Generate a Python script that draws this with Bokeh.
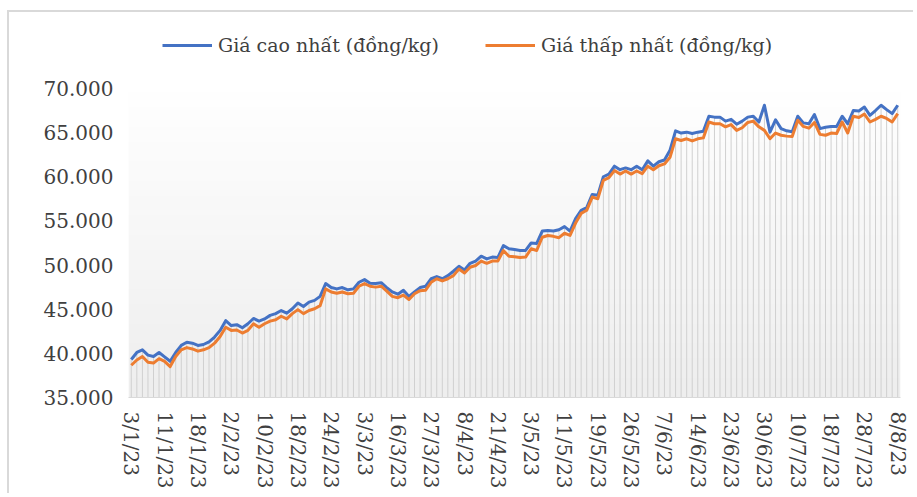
import numpy as np
from bokeh.plotting import figure
from bokeh.models import Range1d, Legend, LegendItem, FixedTicker, ColumnDataSource
from bokeh.embed import file_html
from bokeh.resources import INLINE

# ---- data ----
date_labels = ["3/1/23", "11/1/23", "18/1/23", "2/2/23", "10/2/23", "18/2/23", "24/2/23",
               "3/3/23", "16/3/23", "27/3/23", "8/4/23", "21/4/23", "3/5/23", "11/5/23",
               "19/5/23", "26/5/23", "7/6/23", "14/6/23", "23/6/23", "30/6/23", "10/7/23",
               "18/7/23", "28/7/23", "8/8/23"]
label_every = 6

high = [39300, 40100, 40400, 39800, 39650, 40100, 39600, 39100, 40100, 40900,
        41250, 41150, 40900, 41000, 41300, 41850, 42600, 43700, 43150, 43250,
        42900, 43350, 43950, 43650, 43900, 44300, 44500, 44850, 44550, 45050,
        45700, 45300, 45800, 46000, 46450, 47900, 47450, 47300, 47450, 47200,
        47300, 48050, 48350, 47950, 47900, 48000, 47450, 46950, 46700, 47150,
        46450, 46950, 47450, 47600, 48450, 48700, 48450, 48800, 49300, 49850,
        49450, 50200, 50450, 51000, 50700, 50900, 50850, 52200, 51850, 51750,
        51650, 51650, 52500, 52450, 53850, 53900, 53850, 54000, 54350, 53850,
        55250, 56200, 56500, 58000, 57900, 60000, 60300, 61200, 60800, 61000,
        60800, 61200, 60800, 61800, 61200, 61700, 61900, 63000, 65200, 64950,
        65050, 64900, 65050, 65150, 66850, 66750, 66750, 66300, 66500, 65950,
        66300, 66750, 66850, 66200, 68100, 65050, 66450, 65450, 65200, 65100,
        66850, 66100, 66000, 67050, 65450, 65600, 65700, 65700, 66850, 66000,
        67500, 67450, 67900, 66950, 67500, 68100, 67600, 67150, 68100]

low = [38650, 39250, 39650, 39000, 38900, 39400, 39100, 38500, 39650, 40400,
       40650, 40500, 40250, 40400, 40650, 41150, 41900, 42950, 42600, 42650,
       42300, 42600, 43350, 42950, 43350, 43650, 43800, 44200, 43900, 44500,
       44950, 44500, 44850, 45050, 45400, 47300, 46950, 46800, 46950, 46750,
       46800, 47600, 47900, 47600, 47500, 47600, 47050, 46450, 46300, 46600,
       46100, 46750, 47100, 47150, 48050, 48450, 48200, 48450, 48800, 49550,
       49100, 49750, 49950, 50450, 50200, 50450, 50450, 51650, 51000, 50950,
       50850, 50900, 51850, 51650, 53150, 53350, 53250, 53100, 53600, 53350,
       54750, 55850, 56200, 57700, 57500, 59600, 59900, 60700, 60300, 60650,
       60300, 60650, 60350, 61200, 60800, 61250, 61450, 62200, 64300, 64100,
       64300, 64050, 64300, 64400, 66200, 66000, 66000, 65650, 65900, 65250,
       65550, 66150, 66300, 65650, 65250, 64300, 64950, 64700, 64600, 64550,
       66400, 65700, 65500, 66150, 64800, 64700, 64950, 64900, 66200, 64950,
       66850, 66700, 67100, 66200, 66500, 66850, 66600, 66200, 67150]

y_ticks = [35000, 40000, 45000, 50000, 55000, 60000, 65000, 70000]
y_tick_labels = ["35.000", "40.000", "45.000", "50.000", "55.000", "60.000", "65.000", "70.000"]

series_names = ["Giá cao nhất (đồng/kg)", "Giá thấp nhất (đồng/kg)"]
colors = ["#4472C4", "#ED7D31"]

# ---- build ----
n = len(high)
idx = list(range(n))
base = y_ticks[0]
src = ColumnDataSource(dict(x=idx, high=high, low=low, base=[base] * n))

# frame extends above the top tick to leave room for the legend inside it
y_top = 78600

p = figure(width=906, height=483,
           x_range=Range1d(-0.5, n - 0.5),
           y_range=Range1d(y_ticks[0], y_top),
           output_backend="svg", toolbar_location=None,
           min_border_left=119, min_border_top=0, min_border_right=15, min_border_bottom=98)
p.styles = {"border-left": "2px solid #d9d9d9", "border-top": "2px solid #d9d9d9",
            "margin-left": "7px", "margin-top": "10px"}

# plot-area gradient (white at top to light gray at bottom)
rows = 80
grad = np.empty((rows, 1), dtype=np.uint32)
view = grad.view(dtype=np.uint8).reshape((rows, 1, 4))
shade = np.linspace(238, 255, rows).astype(np.uint8)
view[:, 0, 0] = shade
view[:, 0, 1] = shade
view[:, 0, 2] = shade
view[:, 0, 3] = 255
p.image_rgba(image=[grad], x=-0.5, y=y_ticks[0], dw=n, dh=y_ticks[-1] - y_ticks[0])

# drop lines
p.segment(x0="x", y0="base", x1="x", y1="high", source=src,
          line_color="#d0d0d0", line_width=1)

r_high = p.line("x", "high", source=src, line_color=colors[0], line_width=3, line_join="round")
r_low = p.line("x", "low", source=src, line_color=colors[1], line_width=3, line_join="round")

legend = Legend(items=[LegendItem(label=series_names[0], renderers=[r_high]),
                       LegendItem(label=series_names[1], renderers=[r_low])],
                orientation="horizontal", location=(34, 341),
                border_line_color=None, background_fill_alpha=0,
                padding=0, margin=0, spacing=46, label_standoff=6,
                glyph_width=50, glyph_height=20, label_height=20,
                label_text_font="DejaVu Serif", label_text_font_size="19px",
                label_text_color="#404040")
p.add_layout(legend)

# axes
tick_idx = [i * label_every for i in range(len(date_labels))]
p.xaxis.ticker = FixedTicker(ticks=tick_idx)
p.xaxis.major_label_overrides = {t: lab for t, lab in zip(tick_idx, date_labels)}
p.xaxis.major_label_orientation = "vertical"
p.xaxis.axis_line_color = "#d9d9d9"
p.xaxis.axis_line_width = 1
p.xaxis.major_tick_line_color = None
p.xaxis.minor_tick_line_color = None
p.xaxis.major_tick_out = 0
p.xaxis.major_label_standoff = 14

p.yaxis.ticker = FixedTicker(ticks=y_ticks)
p.yaxis.major_label_overrides = {t: lab for t, lab in zip(y_ticks, y_tick_labels)}
p.yaxis.axis_line_color = None
p.yaxis.major_tick_line_color = None
p.yaxis.minor_tick_line_color = None
p.yaxis.major_tick_out = 0
p.yaxis.major_label_standoff = 15

for ax in (p.xaxis, p.yaxis):
    ax.major_label_text_font = "DejaVu Serif"
    ax.major_label_text_font_size = "20px"
    ax.major_label_text_color = "#404040"

p.xgrid.visible = False
p.ygrid.visible = False
p.outline_line_color = None
p.background_fill_color = "white"
p.border_fill_color = "white"

open("out.html", "w").write(file_html(p, INLINE))
